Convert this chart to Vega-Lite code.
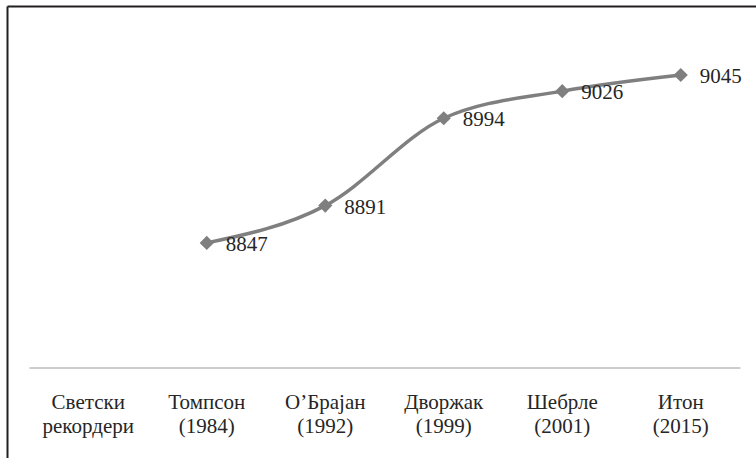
{
  "$schema": "https://vega.github.io/schema/vega-lite/v6.json",
  "width": 749,
  "height": 361.5,
  "autosize": {"type": "none"},
  "padding": {"left": 7, "top": 6, "right": 0, "bottom": 90.5},
  "background": "white",
  "config": {"view": {"stroke": null}, "font": "Liberation Serif"},
  "layer": [
    {
      "data": {
        "values": [
          {"athlete": "Светски|рекордери", "points": null},
          {"athlete": "Томпсон|(1984)", "points": 8847},
          {"athlete": "О’Брајан|(1992)", "points": 8891},
          {"athlete": "Дворжак|(1999)", "points": 8994},
          {"athlete": "Шебрле|(2001)", "points": 9026},
          {"athlete": "Итон|(2015)", "points": 9045}
        ]
      },
      "encoding": {
        "x": {
          "field": "athlete",
          "type": "nominal",
          "sort": null,
          "scale": {
            "type": "band",
            "domain": ["Светски|рекордери", "Томпсон|(1984)", "О’Брајан|(1992)", "Дворжак|(1999)", "Шебрле|(2001)", "Итон|(2015)"],
            "range": [22, 733],
            "paddingInner": 0,
            "paddingOuter": 0
          },
          "axis": {
            "orient": "bottom",
            "title": null,
            "labelAngle": 0,
            "labelExpr": "split(datum.value, '|')",
            "labelFont": "Liberation Serif",
            "labelFontSize": 21,
            "labelColor": "#262626",
            "labelLineHeight": 24,
            "labelPadding": 24,
            "labelLimit": 0,
            "ticks": false,
            "tickSize": 0,
            "domainColor": "#9a9a9a",
            "domainWidth": 1,
            "grid": false
          }
        },
        "y": {
          "field": "points",
          "type": "quantitative",
          "scale": {"domain": [8700, 9100], "range": [361.5, 22.4], "zero": false, "nice": false},
          "axis": null
        }
      },
      "layer": [
        {"mark": {"type": "line", "interpolate": "monotone", "stroke": "#7f7f7f", "strokeWidth": 3.5}},
        {"mark": {"type": "point", "shape": "diamond", "filled": true, "color": "#7f7f7f", "size": 200, "opacity": 1}},
        {
          "mark": {"type": "text", "align": "left", "baseline": "middle", "dx": 19, "dy": 2, "fontSize": 21, "font": "Liberation Serif", "color": "#262626"},
          "encoding": {"text": {"field": "points", "type": "quantitative", "format": "d"}}
        }
      ]
    },
    {
      "data": {"values": [{"bx": 0, "by": 0}]},
      "mark": {"type": "point", "opacity": 0},
      "encoding": {
        "x": {
          "field": "bx",
          "type": "quantitative",
          "scale": {"domain": [0, 1], "range": [0, 749]},
          "axis": {"orient": "top", "domainColor": "#231f20", "domainWidth": 2, "ticks": false, "labels": false, "grid": false, "title": null}
        },
        "y": {
          "field": "by",
          "type": "quantitative",
          "scale": {"domain": [0, 1], "range": [0, 452]},
          "axis": {"orient": "left", "domainColor": "#231f20", "domainWidth": 2, "ticks": false, "labels": false, "grid": false, "title": null}
        }
      }
    }
  ],
  "resolve": {
    "scale": {"x": "independent", "y": "independent"},
    "axis": {"x": "independent", "y": "independent"}
  }
}
